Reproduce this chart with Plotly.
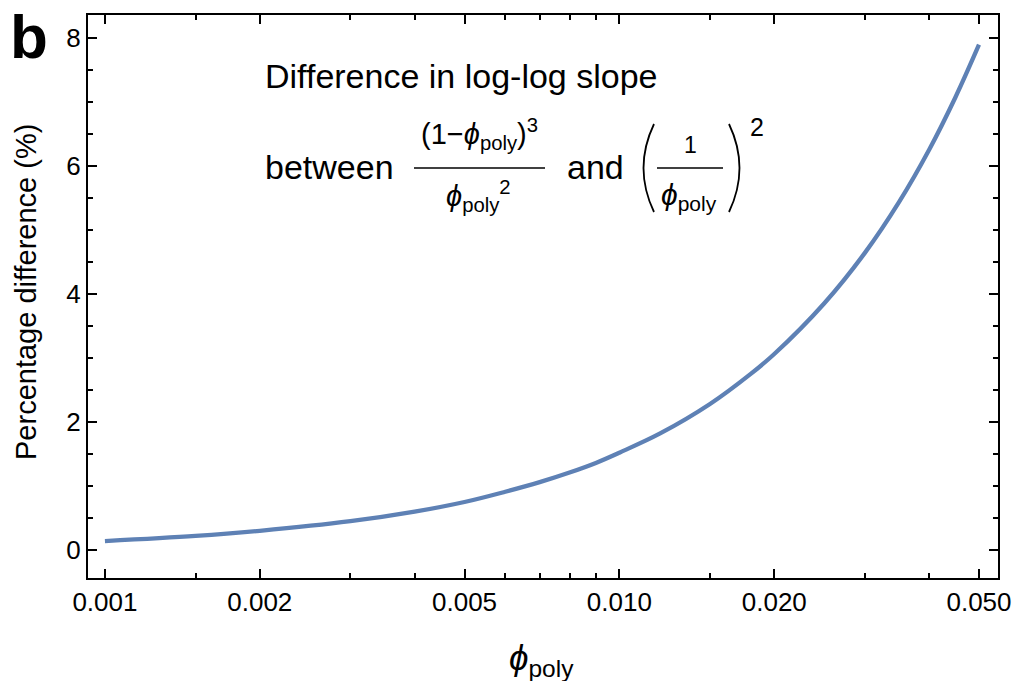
import plotly.graph_objects as go
import math

# ---- data ----
phi_poly = [0.001, 0.0015, 0.002, 0.003, 0.004, 0.005, 0.006, 0.007, 0.008, 0.009,
            0.010, 0.012, 0.015, 0.018, 0.020, 0.025, 0.030, 0.035, 0.040, 0.045, 0.050]
pct_diff = [0.14, 0.22, 0.30, 0.45, 0.60, 0.75, 0.91, 1.06, 1.21, 1.36,
            1.52, 1.82, 2.28, 2.75, 3.06, 3.85, 4.64, 5.44, 6.25, 7.07, 7.89]

x_major = [0.001, 0.002, 0.005, 0.01, 0.02, 0.05]
x_major_text = ["0.001", "0.002", "0.005", "0.010", "0.020", "0.050"]
x_minor = [0.0015, 0.003, 0.004, 0.006, 0.007, 0.008, 0.009, 0.015, 0.03, 0.04]
y_major = [0, 2, 4, 6, 8]

W, H = 1017, 681
L, R, T, B = 88, 998, 15, 578

def px(x):
    return (x - L) / (R - L)

def py(y):
    return (B - y) / (B - T)

FONT = "Liberation Sans"
PHI = "<i>ϕ</i>"

fig = go.Figure()
fig.add_trace(go.Scatter(x=phi_poly, y=pct_diff, mode="lines",
                         line=dict(color="#5E81B5", width=4.3, shape="spline"),
                         showlegend=False, hoverinfo="skip"))

axis_common = dict(showline=True, linecolor="black", linewidth=2, mirror="allticks",
                   ticks="inside", ticklen=9, tickwidth=1.5, tickcolor="black",
                   showgrid=False, zeroline=False, automargin=False,
                   tickfont=dict(family=FONT, size=26, color="black"))

fig.update_xaxes(type="log", range=[math.log10(0.000927), math.log10(0.05444)],
                 tickmode="array", tickvals=x_major, ticktext=x_major_text,
                 minor=dict(tickmode="array", tickvals=x_minor, ticks="inside",
                            ticklen=5, tickwidth=1.5, tickcolor="black", showgrid=False),
                 **axis_common)
fig.update_yaxes(range=[-0.437, 8.354], tickmode="array", tickvals=y_major,
                 minor=dict(dtick=0.5, tick0=0, ticks="inside", ticklen=5, tickwidth=1.5,
                            tickcolor="black", showgrid=False),
                 **axis_common)

ann = []
def text(x, y, s, size, xanchor="center", yanchor="middle", **kw):
    ann.append(dict(x=px(x), y=py(y), xref="paper", yref="paper", text=s, showarrow=False,
                    xanchor=xanchor, yanchor=yanchor,
                    font=dict(family=FONT, size=size, color="black", **kw)))

# panel letter
text(29, 36, "<b>b</b>", 62)
# axis titles
text(26, 292, "Percentage difference (%)", 29)
ann[-1]["textangle"] = -90
text(541, 660, PHI + "<sub>poly</sub>", 35)

# annotation text
text(263, 76, "Difference in log-log slope", 34, xanchor="left")
text(263, 167, "between", 34, xanchor="left")
text(479, 134, "(1−" + PHI + "<sub>poly</sub>)<sup>3</sup>", 29)
text(478, 196, PHI + "<sub>poly</sub><sup>2</sup>", 29)
text(565, 167, "and", 34, xanchor="left")
text(690, 145, "1", 23)
text(689, 196, PHI + "<sub>poly</sub>", 30)
text(757, 127, "2", 25)

shapes = [
    dict(type="line", xref="paper", yref="paper", x0=px(414), x1=px(545), y0=py(168), y1=py(168),
         line=dict(color="black", width=1.6)),
    dict(type="line", xref="paper", yref="paper", x0=px(657), x1=px(723), y0=py(168), y1=py(168),
         line=dict(color="black", width=1.6)),
    # big parentheses
    dict(type="path", xref="paper", yref="paper",
         path=f"M {px(654)},{py(124)} Q {px(633)},{py(168)} {px(654)},{py(212)}",
         line=dict(color="black", width=1.8)),
    dict(type="path", xref="paper", yref="paper",
         path=f"M {px(729)},{py(124)} Q {px(750)},{py(168)} {px(729)},{py(212)}",
         line=dict(color="black", width=1.8)),
]

fig.update_layout(width=W, height=H, margin=dict(l=L, r=W - R, t=T, b=H - B),
                  paper_bgcolor="white", plot_bgcolor="white",
                  annotations=ann, shapes=shapes, showlegend=False)

fig.write_html("out.html")
